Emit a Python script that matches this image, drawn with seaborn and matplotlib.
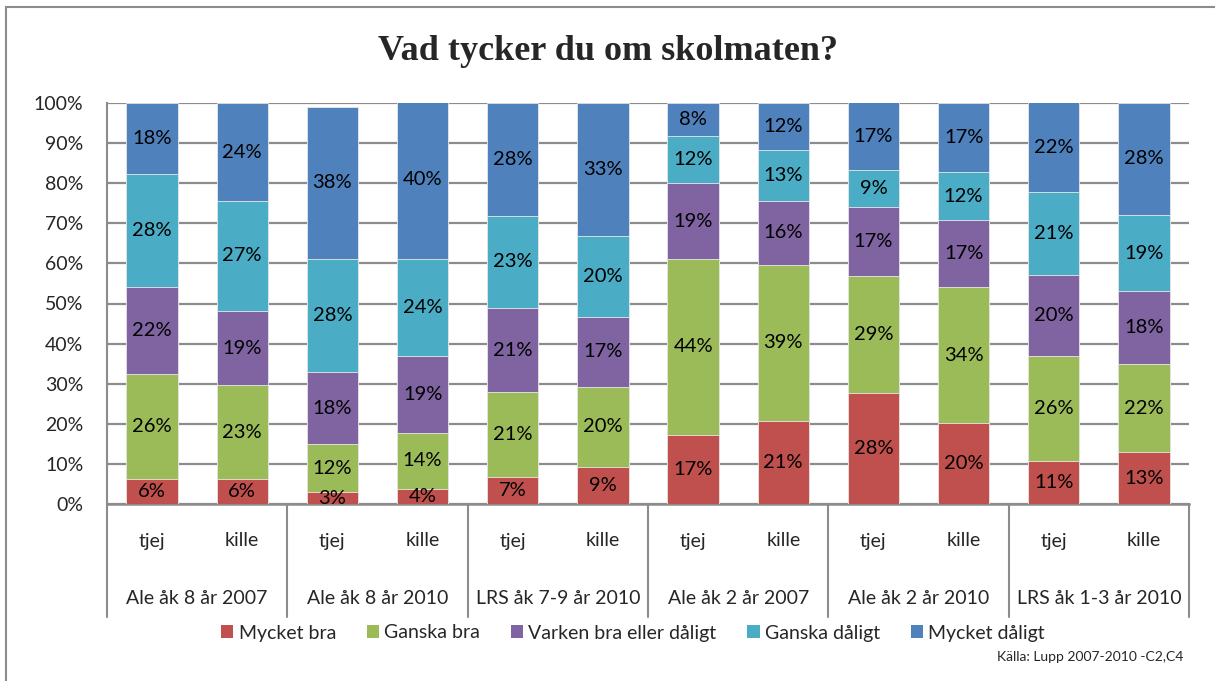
import numpy as np
import pandas as pd
import matplotlib
matplotlib.use("Agg")
import matplotlib.pyplot as plt
from matplotlib.patches import Rectangle, Patch
import seaborn as sns

# ---- data ----
groups = ["Ale åk 8 år 2007", "Ale åk 8 år 2010", "LRS åk 7-9 år 2010",
          "Ale åk 2 år 2007", "Ale åk 2 år 2010", "LRS åk 1-3 år 2010"]
genders = ["tjej", "kille"]
series = ["Mycket bra", "Ganska bra", "Varken bra eller dåligt", "Ganska dåligt", "Mycket dåligt"]

mycket_bra = [6.2, 6.2, 2.9, 3.8, 6.7, 9.2, 17.25, 20.8, 27.6, 20.2, 10.6, 12.9]
ganska_bra = [26.3, 23.4, 12.0, 14.0, 21.2, 20.1, 43.9, 38.8, 29.3, 33.9, 26.3, 22.0]
varken = [21.7, 18.6, 18.0, 19.1, 21.0, 17.4, 18.8, 16.0, 17.1, 16.6, 20.2, 18.1]
ganska_daligt = [28.1, 27.3, 28.1, 24.1, 23.0, 20.2, 11.8, 12.7, 9.25, 12.1, 20.8, 19.1]
mycket_daligt = [17.75, 24.4, 38.1, 39.6, 28.1, 33.1, 8.2, 11.75, 17.0, 17.25, 22.25, 27.9]

colors = ["#C0504D", "#9BBB59", "#8064A2", "#4BACC6", "#4F81BD"]

values = [mycket_bra, ganska_bra, varken, ganska_daligt, mycket_daligt]
cats = [f"{g}|{s}" for g in groups for s in genders]
df = pd.DataFrame({name: vals for name, vals in zip(series, values)}, index=cats)
cum = df.cumsum(axis=1)

sns.set_style("white")
plt.rcParams["font.family"] = ["Lato", "DejaVu Sans"]

fig = plt.figure(figsize=(12.15, 6.81), dpi=100)
ax = fig.add_axes([107 / 1215, 1 - 504 / 681, (1189 - 107) / 1215, (504 - 103) / 681])

# outer frame (left + top visible)
fig.add_artist(Rectangle((6 / 1215, -0.1), 1.2, 1 - 7 / 681 + 0.1, transform=fig.transFigure,
                         fill=False, edgecolor="#8c8c8c", lw=1.5, zorder=0))

order = list(range(len(cats)))
# stacked bars: draw cumulative layers from top to bottom
for i in range(len(series) - 1, -1, -1):
    d = pd.DataFrame({"x": order, "y": cum.iloc[:, i].values})
    sns.barplot(data=d, x="x", y="y", color=colors[i], width=0.57, saturation=1,
                edgecolor="#e8e8e8", linewidth=0.6, ax=ax, zorder=3, order=order)

# value labels
for j in order:
    bottom = 0
    for i, s in enumerate(series):
        v = df.iloc[j, i]
        ax.text(j, bottom + v / 2, f"{v:.0f}%", ha="center", va="center",
                fontsize=14.5, color="black", zorder=5)
        bottom += v

ax.set_xlim(-0.5, len(cats) - 0.5)
ax.set_ylim(0, 100)
ax.set_yticks(np.arange(0, 101, 10))
ax.set_yticklabels([f"{t}%" for t in range(0, 101, 10)], fontsize=14)
ax.tick_params(axis="y", length=0, pad=17)
ax.set_xticks([])
ax.set_xlabel("")
ax.set_ylabel("")
ax.yaxis.grid(True, color="#8c8c8c", lw=1.6, zorder=1)
ax.set_axisbelow(True)
for sp in ["top", "right"]:
    ax.spines[sp].set_visible(False)
ax.spines["left"].set_color("#8c8c8c")
ax.spines["left"].set_linewidth(1.5)
ax.spines["bottom"].set_color("#8c8c8c")
ax.spines["bottom"].set_linewidth(1.8)

# multi-level category axis
trans = matplotlib.transforms.blended_transform_factory(ax.transData, ax.transAxes)
line_bottom = -(617 - 504) / 401
for k in range(len(groups) + 1):
    xpos = 2 * k - 0.5
    ax.plot([xpos, xpos], [0, line_bottom], transform=trans, color="#8c8c8c",
            lw=1.5, clip_on=False, zorder=2)
for j, c in enumerate(cats):
    g, s = c.split("|")
    ax.text(j, -(541 - 504) / 401, s, transform=trans, ha="center", va="center", fontsize=14)
for k, g in enumerate(groups):
    ax.text(2 * k + 0.5, -(598 - 504) / 401, g, transform=trans, ha="center", va="center", fontsize=14)

# title
fig.text(0.5, 1 - 51 / 681, "Vad tycker du om skolmaten?", ha="center", va="center",
         fontsize=26, fontweight="bold", family=["Liberation Serif", "DejaVu Serif"])

# legend
handles = [Patch(facecolor=c, edgecolor="none") for c in colors]
leg = fig.legend(handles, series, loc="center", bbox_to_anchor=(633 / 1215, 1 - 633 / 681), ncol=5,
                 frameon=False, fontsize=14, handlelength=0.62, handleheight=0.62,
                 handletextpad=0.26, columnspacing=1.6)

# source
fig.text(1183 / 1215, 1 - 657 / 681, "Källa: Lupp 2007-2010 -C2,C4", ha="right", va="center", fontsize=10)

fig.savefig("out.png", dpi=100)
